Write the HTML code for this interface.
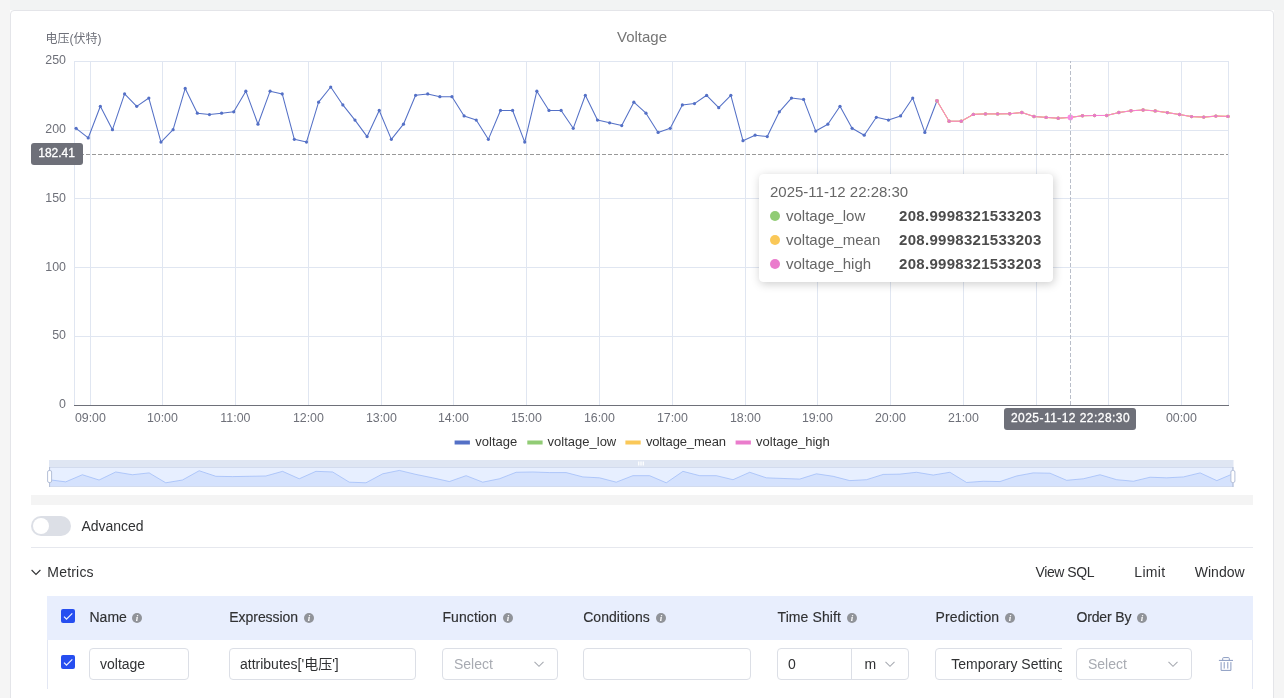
<!DOCTYPE html>
<html lang="en">
<head>
<meta charset="utf-8">
<title>Voltage</title>
<style>
html,body{margin:0;padding:0;}
body{width:1284px;height:698px;overflow:hidden;background:#f5f5f5;font-family:"Liberation Sans","Noto Sans CJK SC",sans-serif;font-size:14px;color:#303133;position:relative;}
.topbar{position:absolute;left:10px;top:0;width:1274px;height:10px;background:#f2f3f3;}
.card{position:absolute;left:10px;top:10px;width:1262px;height:720px;background:#fff;border:1px solid #e4e5e9;border-radius:4px;}
.chart{position:absolute;left:0;top:0;}
.abs{position:absolute;white-space:nowrap;}
.tooltip{position:absolute;left:759px;top:174px;width:272px;height:86px;padding:10px;border:1px solid #fff;border-radius:4px;background:#fff;box-shadow:rgba(0,0,0,0.2) 1px 2px 10px;color:#666;font-size:15px;line-height:14px;}
.tooltip .t{height:14px;position:relative;top:-0.5px;}
.tooltip .r{position:relative;height:14px;margin-top:10px;}
.tooltip .dot{position:absolute;left:0;top:2px;width:10px;height:10px;border-radius:50%;}
.tooltip .n{position:absolute;left:16px;top:-0.5px;}
.tooltip .v{position:absolute;top:-0.5px;font-weight:bold;color:#4c4c4c;letter-spacing:0.28px;right:0.5px;}
.scrollbar{position:absolute;left:31px;top:495px;width:1222px;height:10px;background:#f4f4f4;}
.switch{position:absolute;left:31px;top:516px;width:40px;height:20px;border-radius:10px;background:#dcdfe6;}
.switch i{position:absolute;left:2px;top:2px;width:16px;height:16px;border-radius:50%;background:#fff;}
.divider{position:absolute;left:31px;top:547px;width:1222px;height:1px;background:#e6e8ee;}
.table{position:absolute;left:47px;top:596px;width:1204px;height:93px;border-left:1px solid #e3e7f3;border-right:1px solid #e3e7f3;}
.thead{position:absolute;left:47px;top:596px;width:1206px;height:44px;background:#e8eefd;}
.lbl{position:absolute;top:596px;height:44px;line-height:43px;white-space:nowrap;-webkit-text-stroke:0.15px #303133;}
.info{display:block;}
.inp{position:absolute;top:648px;height:30px;border:1px solid #dcdfe6;border-radius:4px;background:#fff;line-height:30px;box-sizing:content-box;white-space:nowrap;overflow:hidden;}
.ph{color:#a8abb2;}
.chev{position:absolute;}
.cb{position:absolute;width:14px;height:14px;}
.btn{position:absolute;top:562px;height:20px;line-height:20px;}
</style>
</head>
<body>
<div class="topbar"></div>
<div class="abs" style="left:10px;top:10px;width:1264px;height:700px;background:#fff;"></div>
<div class="card"></div>
<svg class="chart" width="1284" height="500" viewBox="0 0 1284 500">
<g shape-rendering="crispEdges" stroke="#E0E6F1" stroke-width="1" fill="none"><line x1="74" y1="61.5" x2="1229" y2="61.5"/><line x1="74" y1="130.5" x2="1229" y2="130.5"/><line x1="74" y1="198.5" x2="1229" y2="198.5"/><line x1="74" y1="267.5" x2="1229" y2="267.5"/><line x1="74" y1="336.5" x2="1229" y2="336.5"/><line x1="74.5" y1="61" x2="74.5" y2="405"/><line x1="90.5" y1="61" x2="90.5" y2="405"/><line x1="162.5" y1="61" x2="162.5" y2="405"/><line x1="235.5" y1="61" x2="235.5" y2="405"/><line x1="308.5" y1="61" x2="308.5" y2="405"/><line x1="381.5" y1="61" x2="381.5" y2="405"/><line x1="453.5" y1="61" x2="453.5" y2="405"/><line x1="526.5" y1="61" x2="526.5" y2="405"/><line x1="599.5" y1="61" x2="599.5" y2="405"/><line x1="672.5" y1="61" x2="672.5" y2="405"/><line x1="745.5" y1="61" x2="745.5" y2="405"/><line x1="817.5" y1="61" x2="817.5" y2="405"/><line x1="890.5" y1="61" x2="890.5" y2="405"/><line x1="963.5" y1="61" x2="963.5" y2="405"/><line x1="1036.5" y1="61" x2="1036.5" y2="405"/><line x1="1108.5" y1="61" x2="1108.5" y2="405"/><line x1="1181.5" y1="61" x2="1181.5" y2="405"/><line x1="1228.5" y1="61" x2="1228.5" y2="405"/></g>
<line x1="74" y1="405.5" x2="1229" y2="405.5" stroke="#6E7079" stroke-width="1" shape-rendering="crispEdges"/>
<g fill="none" stroke-linejoin="bevel">
<polyline points="76.10,128.32 88.22,137.96 100.35,106.31 112.47,129.70 124.60,93.92 136.72,106.31 148.85,98.05 160.97,142.08 173.10,129.70 185.22,88.42 197.35,113.19 209.47,114.56 221.60,113.19 233.72,111.81 245.85,91.17 257.98,124.20 270.10,91.17 282.23,93.92 294.35,139.33 306.48,142.08 318.60,102.18 330.73,87.04 342.85,104.93 354.98,120.07 367.10,136.58 379.23,110.44 391.35,139.33 403.48,124.20 415.60,95.30 427.73,93.92 439.85,96.68 451.98,96.68 464.10,115.94 476.23,120.07 488.35,139.33 500.48,110.44 512.60,110.44 524.73,142.08 536.85,91.17 548.98,110.44 561.10,110.44 573.23,128.32 585.35,95.30 597.48,120.07 609.60,122.82 621.73,125.57 633.85,102.18 645.98,113.19 658.10,132.45 670.23,128.32 682.35,104.93 694.48,103.56 706.60,95.30 718.73,107.68 730.85,95.30 742.98,140.71 755.10,135.20 767.23,136.58 779.35,111.81 791.48,98.05 803.60,99.43 815.73,131.08 827.85,124.20 839.98,106.31 852.10,128.32 864.23,135.20 876.35,117.32 888.48,120.07 900.60,115.94 912.73,98.05 924.85,132.45 936.98,100.80" stroke="#5470c6" stroke-width="1.05"/>
</g>
<circle cx="76.10" cy="128.32" r="1.6" fill="#5470c6"/><circle cx="88.22" cy="137.96" r="1.6" fill="#5470c6"/><circle cx="100.35" cy="106.31" r="1.6" fill="#5470c6"/><circle cx="112.47" cy="129.70" r="1.6" fill="#5470c6"/><circle cx="124.60" cy="93.92" r="1.6" fill="#5470c6"/><circle cx="136.72" cy="106.31" r="1.6" fill="#5470c6"/><circle cx="148.85" cy="98.05" r="1.6" fill="#5470c6"/><circle cx="160.97" cy="142.08" r="1.6" fill="#5470c6"/><circle cx="173.10" cy="129.70" r="1.6" fill="#5470c6"/><circle cx="185.22" cy="88.42" r="1.6" fill="#5470c6"/><circle cx="197.35" cy="113.19" r="1.6" fill="#5470c6"/><circle cx="209.47" cy="114.56" r="1.6" fill="#5470c6"/><circle cx="221.60" cy="113.19" r="1.6" fill="#5470c6"/><circle cx="233.72" cy="111.81" r="1.6" fill="#5470c6"/><circle cx="245.85" cy="91.17" r="1.6" fill="#5470c6"/><circle cx="257.98" cy="124.20" r="1.6" fill="#5470c6"/><circle cx="270.10" cy="91.17" r="1.6" fill="#5470c6"/><circle cx="282.23" cy="93.92" r="1.6" fill="#5470c6"/><circle cx="294.35" cy="139.33" r="1.6" fill="#5470c6"/><circle cx="306.48" cy="142.08" r="1.6" fill="#5470c6"/><circle cx="318.60" cy="102.18" r="1.6" fill="#5470c6"/><circle cx="330.73" cy="87.04" r="1.6" fill="#5470c6"/><circle cx="342.85" cy="104.93" r="1.6" fill="#5470c6"/><circle cx="354.98" cy="120.07" r="1.6" fill="#5470c6"/><circle cx="367.10" cy="136.58" r="1.6" fill="#5470c6"/><circle cx="379.23" cy="110.44" r="1.6" fill="#5470c6"/><circle cx="391.35" cy="139.33" r="1.6" fill="#5470c6"/><circle cx="403.48" cy="124.20" r="1.6" fill="#5470c6"/><circle cx="415.60" cy="95.30" r="1.6" fill="#5470c6"/><circle cx="427.73" cy="93.92" r="1.6" fill="#5470c6"/><circle cx="439.85" cy="96.68" r="1.6" fill="#5470c6"/><circle cx="451.98" cy="96.68" r="1.6" fill="#5470c6"/><circle cx="464.10" cy="115.94" r="1.6" fill="#5470c6"/><circle cx="476.23" cy="120.07" r="1.6" fill="#5470c6"/><circle cx="488.35" cy="139.33" r="1.6" fill="#5470c6"/><circle cx="500.48" cy="110.44" r="1.6" fill="#5470c6"/><circle cx="512.60" cy="110.44" r="1.6" fill="#5470c6"/><circle cx="524.73" cy="142.08" r="1.6" fill="#5470c6"/><circle cx="536.85" cy="91.17" r="1.6" fill="#5470c6"/><circle cx="548.98" cy="110.44" r="1.6" fill="#5470c6"/><circle cx="561.10" cy="110.44" r="1.6" fill="#5470c6"/><circle cx="573.23" cy="128.32" r="1.6" fill="#5470c6"/><circle cx="585.35" cy="95.30" r="1.6" fill="#5470c6"/><circle cx="597.48" cy="120.07" r="1.6" fill="#5470c6"/><circle cx="609.60" cy="122.82" r="1.6" fill="#5470c6"/><circle cx="621.73" cy="125.57" r="1.6" fill="#5470c6"/><circle cx="633.85" cy="102.18" r="1.6" fill="#5470c6"/><circle cx="645.98" cy="113.19" r="1.6" fill="#5470c6"/><circle cx="658.10" cy="132.45" r="1.6" fill="#5470c6"/><circle cx="670.23" cy="128.32" r="1.6" fill="#5470c6"/><circle cx="682.35" cy="104.93" r="1.6" fill="#5470c6"/><circle cx="694.48" cy="103.56" r="1.6" fill="#5470c6"/><circle cx="706.60" cy="95.30" r="1.6" fill="#5470c6"/><circle cx="718.73" cy="107.68" r="1.6" fill="#5470c6"/><circle cx="730.85" cy="95.30" r="1.6" fill="#5470c6"/><circle cx="742.98" cy="140.71" r="1.6" fill="#5470c6"/><circle cx="755.10" cy="135.20" r="1.6" fill="#5470c6"/><circle cx="767.23" cy="136.58" r="1.6" fill="#5470c6"/><circle cx="779.35" cy="111.81" r="1.6" fill="#5470c6"/><circle cx="791.48" cy="98.05" r="1.6" fill="#5470c6"/><circle cx="803.60" cy="99.43" r="1.6" fill="#5470c6"/><circle cx="815.73" cy="131.08" r="1.6" fill="#5470c6"/><circle cx="827.85" cy="124.20" r="1.6" fill="#5470c6"/><circle cx="839.98" cy="106.31" r="1.6" fill="#5470c6"/><circle cx="852.10" cy="128.32" r="1.6" fill="#5470c6"/><circle cx="864.23" cy="135.20" r="1.6" fill="#5470c6"/><circle cx="876.35" cy="117.32" r="1.6" fill="#5470c6"/><circle cx="888.48" cy="120.07" r="1.6" fill="#5470c6"/><circle cx="900.60" cy="115.94" r="1.6" fill="#5470c6"/><circle cx="912.73" cy="98.05" r="1.6" fill="#5470c6"/><circle cx="924.85" cy="132.45" r="1.6" fill="#5470c6"/><circle cx="936.98" cy="100.80" r="1.6" fill="#5470c6"/>
<polyline points="936.98,100.80 949.10,121.20 961.23,121.20 973.35,114.40 985.48,113.90 997.60,113.90 1009.73,113.75 1021.85,112.50 1033.97,116.50 1046.10,117.40 1058.22,118.20 1070.35,117.40 1082.47,115.75 1094.60,115.50 1106.72,115.45 1118.85,112.55 1130.97,110.80 1143.10,110.00 1155.22,110.90 1167.35,112.60 1179.47,114.50 1191.60,116.60 1203.72,117.10 1215.85,116.10 1227.97,116.40" fill="none" stroke="#91cc75" stroke-width="1.0" stroke-linejoin="bevel"/>
<circle cx="936.98" cy="100.80" r="1.7" fill="#91cc75"/><circle cx="949.10" cy="121.20" r="1.7" fill="#91cc75"/><circle cx="961.23" cy="121.20" r="1.7" fill="#91cc75"/><circle cx="973.35" cy="114.40" r="1.7" fill="#91cc75"/><circle cx="985.48" cy="113.90" r="1.7" fill="#91cc75"/><circle cx="997.60" cy="113.90" r="1.7" fill="#91cc75"/><circle cx="1009.73" cy="113.75" r="1.7" fill="#91cc75"/><circle cx="1021.85" cy="112.50" r="1.7" fill="#91cc75"/><circle cx="1033.97" cy="116.50" r="1.7" fill="#91cc75"/><circle cx="1046.10" cy="117.40" r="1.7" fill="#91cc75"/><circle cx="1058.22" cy="118.20" r="1.7" fill="#91cc75"/><circle cx="1070.35" cy="117.40" r="1.7" fill="#91cc75"/><circle cx="1082.47" cy="115.75" r="1.7" fill="#91cc75"/><circle cx="1094.60" cy="115.50" r="1.7" fill="#91cc75"/><circle cx="1106.72" cy="115.45" r="1.7" fill="#91cc75"/><circle cx="1118.85" cy="112.55" r="1.7" fill="#91cc75"/><circle cx="1130.97" cy="110.80" r="1.7" fill="#91cc75"/><circle cx="1143.10" cy="110.00" r="1.7" fill="#91cc75"/><circle cx="1155.22" cy="110.90" r="1.7" fill="#91cc75"/><circle cx="1167.35" cy="112.60" r="1.7" fill="#91cc75"/><circle cx="1179.47" cy="114.50" r="1.7" fill="#91cc75"/><circle cx="1191.60" cy="116.60" r="1.7" fill="#91cc75"/><circle cx="1203.72" cy="117.10" r="1.7" fill="#91cc75"/><circle cx="1215.85" cy="116.10" r="1.7" fill="#91cc75"/><circle cx="1227.97" cy="116.40" r="1.7" fill="#91cc75"/>
<polyline points="936.98,100.80 949.10,121.20 961.23,121.20 973.35,114.40 985.48,113.90 997.60,113.90 1009.73,113.75 1021.85,112.50 1033.97,116.50 1046.10,117.40 1058.22,118.20 1070.35,117.40 1082.47,115.75 1094.60,115.50 1106.72,115.45 1118.85,112.55 1130.97,110.80 1143.10,110.00 1155.22,110.90 1167.35,112.60 1179.47,114.50 1191.60,116.60 1203.72,117.10 1215.85,116.10 1227.97,116.40" fill="none" stroke="#fac858" stroke-width="1.1" stroke-linejoin="bevel"/>
<circle cx="936.98" cy="100.80" r="1.7" fill="#fac858"/><circle cx="949.10" cy="121.20" r="1.7" fill="#fac858"/><circle cx="961.23" cy="121.20" r="1.7" fill="#fac858"/><circle cx="973.35" cy="114.40" r="1.7" fill="#fac858"/><circle cx="985.48" cy="113.90" r="1.7" fill="#fac858"/><circle cx="997.60" cy="113.90" r="1.7" fill="#fac858"/><circle cx="1009.73" cy="113.75" r="1.7" fill="#fac858"/><circle cx="1021.85" cy="112.50" r="1.7" fill="#fac858"/><circle cx="1033.97" cy="116.50" r="1.7" fill="#fac858"/><circle cx="1046.10" cy="117.40" r="1.7" fill="#fac858"/><circle cx="1058.22" cy="118.20" r="1.7" fill="#fac858"/><circle cx="1070.35" cy="117.40" r="1.7" fill="#fac858"/><circle cx="1082.47" cy="115.75" r="1.7" fill="#fac858"/><circle cx="1094.60" cy="115.50" r="1.7" fill="#fac858"/><circle cx="1106.72" cy="115.45" r="1.7" fill="#fac858"/><circle cx="1118.85" cy="112.55" r="1.7" fill="#fac858"/><circle cx="1130.97" cy="110.80" r="1.7" fill="#fac858"/><circle cx="1143.10" cy="110.00" r="1.7" fill="#fac858"/><circle cx="1155.22" cy="110.90" r="1.7" fill="#fac858"/><circle cx="1167.35" cy="112.60" r="1.7" fill="#fac858"/><circle cx="1179.47" cy="114.50" r="1.7" fill="#fac858"/><circle cx="1191.60" cy="116.60" r="1.7" fill="#fac858"/><circle cx="1203.72" cy="117.10" r="1.7" fill="#fac858"/><circle cx="1215.85" cy="116.10" r="1.7" fill="#fac858"/><circle cx="1227.97" cy="116.40" r="1.7" fill="#fac858"/>
<polyline points="936.98,100.80 949.10,121.20 961.23,121.20 973.35,114.40 985.48,113.90 997.60,113.90 1009.73,113.75 1021.85,112.50 1033.97,116.50 1046.10,117.40 1058.22,118.20 1070.35,117.40 1082.47,115.75 1094.60,115.50 1106.72,115.45 1118.85,112.55 1130.97,110.80 1143.10,110.00 1155.22,110.90 1167.35,112.60 1179.47,114.50 1191.60,116.60 1203.72,117.10 1215.85,116.10 1227.97,116.40" fill="none" stroke="#fb7dd6" stroke-width="1.0" stroke-linejoin="bevel"/>
<circle cx="936.98" cy="100.80" r="1.7" fill="#e47cc9"/><circle cx="949.10" cy="121.20" r="1.7" fill="#e47cc9"/><circle cx="961.23" cy="121.20" r="1.7" fill="#e47cc9"/><circle cx="973.35" cy="114.40" r="1.7" fill="#e47cc9"/><circle cx="985.48" cy="113.90" r="1.7" fill="#e47cc9"/><circle cx="997.60" cy="113.90" r="1.7" fill="#e47cc9"/><circle cx="1009.73" cy="113.75" r="1.7" fill="#e47cc9"/><circle cx="1021.85" cy="112.50" r="1.7" fill="#e47cc9"/><circle cx="1033.97" cy="116.50" r="1.7" fill="#e47cc9"/><circle cx="1046.10" cy="117.40" r="1.7" fill="#e47cc9"/><circle cx="1058.22" cy="118.20" r="1.7" fill="#e47cc9"/><circle cx="1070.35" cy="117.40" r="1.7" fill="#e47cc9"/><circle cx="1082.47" cy="115.75" r="1.7" fill="#e47cc9"/><circle cx="1094.60" cy="115.50" r="1.7" fill="#e47cc9"/><circle cx="1106.72" cy="115.45" r="1.7" fill="#e47cc9"/><circle cx="1118.85" cy="112.55" r="1.7" fill="#e47cc9"/><circle cx="1130.97" cy="110.80" r="1.7" fill="#e47cc9"/><circle cx="1143.10" cy="110.00" r="1.7" fill="#e47cc9"/><circle cx="1155.22" cy="110.90" r="1.7" fill="#e47cc9"/><circle cx="1167.35" cy="112.60" r="1.7" fill="#e47cc9"/><circle cx="1179.47" cy="114.50" r="1.7" fill="#e47cc9"/><circle cx="1191.60" cy="116.60" r="1.7" fill="#e47cc9"/><circle cx="1203.72" cy="117.10" r="1.7" fill="#e47cc9"/><circle cx="1215.85" cy="116.10" r="1.7" fill="#e47cc9"/><circle cx="1227.97" cy="116.40" r="1.7" fill="#e47cc9"/>
<line x1="83" y1="154.5" x2="1228" y2="154.5" stroke="#999" stroke-width="1" stroke-dasharray="4 2" stroke-dashoffset="3" shape-rendering="crispEdges"/>
<circle cx="1070.35" cy="117.40" r="2.8" fill="#f78ce2"/>
<line x1="1070.5" y1="405" x2="1070.5" y2="61" stroke="#B9BEC9" stroke-width="1" stroke-dasharray="4 2" shape-rendering="crispEdges"/>
<g font-family="'Liberation Sans', 'Noto Sans CJK SC', sans-serif" font-size="12.4" fill="#6E7079">
<text x="45.5" y="43" font-size="12">电压(伏特)</text>
<text x="66" y="63.9" text-anchor="end">250</text>
<text x="66" y="132.9" text-anchor="end">200</text>
<text x="66" y="201.9" text-anchor="end">150</text>
<text x="66" y="270.9" text-anchor="end">100</text>
<text x="66" y="338.9" text-anchor="end">50</text>
<text x="66" y="407.9" text-anchor="end">0</text>
<text x="90.4" y="422" text-anchor="middle">09:00</text>
<text x="162.4" y="422" text-anchor="middle">10:00</text>
<text x="235.4" y="422" text-anchor="middle">11:00</text>
<text x="308.4" y="422" text-anchor="middle">12:00</text>
<text x="381.4" y="422" text-anchor="middle">13:00</text>
<text x="453.4" y="422" text-anchor="middle">14:00</text>
<text x="526.4" y="422" text-anchor="middle">15:00</text>
<text x="599.4" y="422" text-anchor="middle">16:00</text>
<text x="672.4" y="422" text-anchor="middle">17:00</text>
<text x="745.4" y="422" text-anchor="middle">18:00</text>
<text x="817.4" y="422" text-anchor="middle">19:00</text>
<text x="890.4" y="422" text-anchor="middle">20:00</text>
<text x="963.4" y="422" text-anchor="middle">21:00</text>
<text x="1181.4" y="422" text-anchor="middle">00:00</text>
</g>
<text x="642" y="42" text-anchor="middle" font-family="'Liberation Sans', sans-serif" font-size="15" fill="#757575">Voltage</text>
<rect x="31" y="143" width="52" height="22" rx="3" fill="#6E7079"/>
<text x="56.6" y="157.4" text-anchor="middle" font-family="'Liberation Sans', sans-serif" font-size="12" fill="#fff" stroke="#fff" stroke-width="0.3">182.41</text>
<rect x="1004" y="408" width="132" height="22" rx="3" fill="#6E7079"/>
<text x="1070.5" y="421.8" text-anchor="middle" font-family="'Liberation Sans', sans-serif" font-size="12" letter-spacing="0.45" fill="#fff" stroke="#fff" stroke-width="0.3">2025-11-12 22:28:30</text>
<g font-family="'Liberation Sans', sans-serif" font-size="13" fill="#333">
<rect x="454.6" y="440.5" width="15.3" height="4" fill="#5470c6"/>
<text x="475.3" y="445.9">voltage</text>
<rect x="527.3" y="440.5" width="15.3" height="4" fill="#91cc75"/>
<text x="547.6" y="445.9">voltage_low</text>
<rect x="625.4" y="440.5" width="15.3" height="4" fill="#fac858"/>
<text x="645.9" y="445.9" letter-spacing="-0.14">voltage_mean</text>
<rect x="735.6" y="440.5" width="15.3" height="4" fill="#ea7ccc"/>
<text x="756.1" y="445.9">voltage_high</text>
</g>
<rect x="49" y="460" width="1184.5" height="7" fill="#D2DBEE" fill-opacity="0.7"/>
<rect x="49" y="467" width="1184.5" height="20" fill="rgb(135,175,255)" fill-opacity="0.2"/>
<polygon points="49,487 49.00,479.70 65.68,481.86 82.37,474.74 99.05,480.01 115.73,471.96 132.42,474.74 149.10,472.88 165.78,482.79 182.46,480.01 199.15,470.72 215.83,476.29 232.51,476.60 249.20,476.29 265.88,475.98 282.56,471.34 299.25,478.77 315.93,471.34 332.61,471.96 349.30,482.17 365.98,482.79 382.66,473.81 399.35,470.41 416.03,474.43 432.71,477.84 449.39,481.55 466.08,475.67 482.76,482.17 499.44,478.77 516.13,472.27 532.81,471.96 549.49,472.58 566.18,472.58 582.86,476.91 599.54,477.84 616.23,482.17 632.91,475.67 649.59,475.67 666.27,482.79 682.96,471.34 699.64,475.67 716.32,475.67 733.01,479.70 749.69,472.27 766.37,477.84 783.06,478.46 799.74,479.08 816.42,473.81 833.11,476.29 849.79,480.62 866.47,479.70 883.15,474.43 899.84,474.12 916.52,472.27 933.20,475.05 949.89,472.27 966.57,482.48 983.25,481.24 999.94,481.55 1016.62,475.98 1033.30,472.88 1049.99,473.19 1066.67,480.32 1083.35,478.77 1100.04,474.74 1116.72,479.70 1133.40,481.24 1150.08,477.22 1166.77,477.84 1183.45,476.91 1200.13,472.88 1216.82,480.62 1233.50,473.50 1233.5,487" fill="#8fb0f7" fill-opacity="0.2"/>
<polyline points="49.00,479.70 65.68,481.86 82.37,474.74 99.05,480.01 115.73,471.96 132.42,474.74 149.10,472.88 165.78,482.79 182.46,480.01 199.15,470.72 215.83,476.29 232.51,476.60 249.20,476.29 265.88,475.98 282.56,471.34 299.25,478.77 315.93,471.34 332.61,471.96 349.30,482.17 365.98,482.79 382.66,473.81 399.35,470.41 416.03,474.43 432.71,477.84 449.39,481.55 466.08,475.67 482.76,482.17 499.44,478.77 516.13,472.27 532.81,471.96 549.49,472.58 566.18,472.58 582.86,476.91 599.54,477.84 616.23,482.17 632.91,475.67 649.59,475.67 666.27,482.79 682.96,471.34 699.64,475.67 716.32,475.67 733.01,479.70 749.69,472.27 766.37,477.84 783.06,478.46 799.74,479.08 816.42,473.81 833.11,476.29 849.79,480.62 866.47,479.70 883.15,474.43 899.84,474.12 916.52,472.27 933.20,475.05 949.89,472.27 966.57,482.48 983.25,481.24 999.94,481.55 1016.62,475.98 1033.30,472.88 1049.99,473.19 1066.67,480.32 1083.35,478.77 1100.04,474.74 1116.72,479.70 1133.40,481.24 1150.08,477.22 1166.77,477.84 1183.45,476.91 1200.13,472.88 1216.82,480.62 1233.50,473.50" fill="none" stroke="#8fb0f7" stroke-width="0.6"/>
<rect x="49.5" y="467.5" width="1183.5" height="19" fill="none" stroke="#d2dbee" stroke-width="1"/>
<line x1="49.6" y1="467" x2="49.6" y2="487" stroke="#B4BFD8" stroke-width="1"/>
<rect x="47.6" y="470.5" width="4" height="12" rx="1.5" fill="#fff" stroke="#B4BFD8" stroke-width="1"/>
<line x1="1232.9" y1="467" x2="1232.9" y2="487" stroke="#B4BFD8" stroke-width="1"/>
<rect x="1230.9" y="470.5" width="4" height="12" rx="1.5" fill="#fff" stroke="#B4BFD8" stroke-width="1"/>
<g fill="#fff" fill-opacity="0.9"><rect x="638" y="461.5" width="1.4" height="4"/><rect x="640.3" y="461.5" width="1.4" height="4"/><rect x="642.6" y="461.5" width="1.4" height="4"/></g>
</svg>
<div class="tooltip">
  <div class="t">2025-11-12 22:28:30</div>
  <div class="r"><span class="dot" style="background:#91cc75"></span><span class="n">voltage_low</span><span class="v">208.9998321533203</span></div>
  <div class="r"><span class="dot" style="background:#fac858"></span><span class="n">voltage_mean</span><span class="v">208.9998321533203</span></div>
  <div class="r"><span class="dot" style="background:#ea7ccc"></span><span class="n">voltage_high</span><span class="v">208.9998321533203</span></div>
</div>
<div class="scrollbar"></div>
<div class="switch"><i></i></div>
<div class="abs" style="left:81.5px;top:516px;line-height:20px;letter-spacing:-0.03px;">Advanced</div>
<div class="divider"></div>
<svg class="abs" style="left:30px;top:566px" width="12" height="12" viewBox="0 0 12 12"><path d="M1.6 4L6 8.4 10.4 4" fill="none" stroke="#303133" stroke-width="1.1"/></svg>
<div class="abs" style="left:47.3px;top:562px;line-height:20px;letter-spacing:0.2px;">Metrics</div>
<div class="btn" style="left:1035.6px;letter-spacing:-0.45px;">View SQL</div>
<div class="btn" style="left:1134.3px;letter-spacing:0.3px;">Limit</div>
<div class="btn" style="left:1194.8px;">Window</div>
<div class="table"></div>
<div class="thead"></div>
<div class="cb" style="left:61px;top:609px;"><svg width="14" height="14" viewBox="0 0 14 14"><rect width="14" height="14" rx="2" fill="#264ef0"/><path d="M3 7.6L5.5 10.2 11.3 4.4" fill="none" stroke="#fff" stroke-opacity="0.92" stroke-width="1.25"/></svg></div>
<div class="lbl" style="left:89.5px;letter-spacing:0px;">Name</div>
<div class="abs" style="left:132.0px;top:612.9px;width:10px;height:10px;"><svg class="info" width="10" height="10" viewBox="0 0 10 10"><circle cx="5" cy="5" r="5" fill="#909399"/><text x="5.1" y="8.1" text-anchor="middle" font-family="'Liberation Serif', serif" font-style="italic" font-weight="bold" font-size="9" fill="#fff">i</text></svg></div>
<div class="lbl" style="left:229.3px;letter-spacing:-0.05px;">Expression</div>
<div class="abs" style="left:304.1px;top:612.9px;width:10px;height:10px;"><svg class="info" width="10" height="10" viewBox="0 0 10 10"><circle cx="5" cy="5" r="5" fill="#909399"/><text x="5.1" y="8.1" text-anchor="middle" font-family="'Liberation Serif', serif" font-style="italic" font-weight="bold" font-size="9" fill="#fff">i</text></svg></div>
<div class="lbl" style="left:442.4px;letter-spacing:0.1px;">Function</div>
<div class="abs" style="left:503.0px;top:612.9px;width:10px;height:10px;"><svg class="info" width="10" height="10" viewBox="0 0 10 10"><circle cx="5" cy="5" r="5" fill="#909399"/><text x="5.1" y="8.1" text-anchor="middle" font-family="'Liberation Serif', serif" font-style="italic" font-weight="bold" font-size="9" fill="#fff">i</text></svg></div>
<div class="lbl" style="left:583.2px;letter-spacing:0.05px;">Conditions</div>
<div class="abs" style="left:656.0px;top:612.9px;width:10px;height:10px;"><svg class="info" width="10" height="10" viewBox="0 0 10 10"><circle cx="5" cy="5" r="5" fill="#909399"/><text x="5.1" y="8.1" text-anchor="middle" font-family="'Liberation Serif', serif" font-style="italic" font-weight="bold" font-size="9" fill="#fff">i</text></svg></div>
<div class="lbl" style="left:777.5px;letter-spacing:0.1px;">Time Shift</div>
<div class="abs" style="left:847.0px;top:612.9px;width:10px;height:10px;"><svg class="info" width="10" height="10" viewBox="0 0 10 10"><circle cx="5" cy="5" r="5" fill="#909399"/><text x="5.1" y="8.1" text-anchor="middle" font-family="'Liberation Serif', serif" font-style="italic" font-weight="bold" font-size="9" fill="#fff">i</text></svg></div>
<div class="lbl" style="left:935.5px;letter-spacing:0.15px;">Prediction</div>
<div class="abs" style="left:1004.8px;top:612.9px;width:10px;height:10px;"><svg class="info" width="10" height="10" viewBox="0 0 10 10"><circle cx="5" cy="5" r="5" fill="#909399"/><text x="5.1" y="8.1" text-anchor="middle" font-family="'Liberation Serif', serif" font-style="italic" font-weight="bold" font-size="9" fill="#fff">i</text></svg></div>
<div class="lbl" style="left:1076.4px;letter-spacing:-0.12px;">Order By</div>
<div class="abs" style="left:1137.0px;top:612.9px;width:10px;height:10px;"><svg class="info" width="10" height="10" viewBox="0 0 10 10"><circle cx="5" cy="5" r="5" fill="#909399"/><text x="5.1" y="8.1" text-anchor="middle" font-family="'Liberation Serif', serif" font-style="italic" font-weight="bold" font-size="9" fill="#fff">i</text></svg></div>
<div class="cb" style="left:61px;top:655px;"><svg width="14" height="14" viewBox="0 0 14 14"><rect width="14" height="14" rx="2" fill="#264ef0"/><path d="M3 7.6L5.5 10.2 11.3 4.4" fill="none" stroke="#fff" stroke-opacity="0.92" stroke-width="1.25"/></svg></div>
<div class="inp" style="left:89px;width:98px;"><span style="margin-left:10px">voltage</span></div>
<div class="inp" style="left:229px;width:185px;"><span style="margin-left:10px">attributes['电压']</span></div>
<div class="inp" style="left:442px;width:114px;"><span class="ph" style="margin-left:11px">Select</span></div>
<div class="chev" style="left:533px;top:658px;"><svg class="chev" width="12" height="12" viewBox="0 0 12 12"><path d="M1.5 3.8L6 8.3l4.5-4.5" fill="none" stroke="#a8abb2" stroke-width="1.1"/></svg></div>
<div class="inp" style="left:583px;width:166px;"></div>
<div class="inp" style="left:777px;width:130px;"><span style="margin-left:10px">0</span></div>
<div class="abs" style="left:851px;top:649px;width:1px;height:30px;background:#dcdfe6;"></div>
<div class="abs" style="left:864.5px;top:649px;line-height:30px;">m</div>
<div class="chev" style="left:884px;top:658px;"><svg class="chev" width="12" height="12" viewBox="0 0 12 12"><path d="M1.5 3.8L6 8.3l4.5-4.5" fill="none" stroke="#a8abb2" stroke-width="1.1"/></svg></div>
<div class="abs" style="left:935px;top:648px;width:127px;height:32px;overflow:hidden;"><div class="inp" style="left:0;top:0;width:160px;"><span style="margin-left:15.3px">Temporary Setting</span></div></div>
<div class="inp" style="left:1076px;width:114px;"><span class="ph" style="margin-left:11px">Select</span></div>
<div class="chev" style="left:1167px;top:658px;"><svg class="chev" width="12" height="12" viewBox="0 0 12 12"><path d="M1.5 3.8L6 8.3l4.5-4.5" fill="none" stroke="#a8abb2" stroke-width="1.1"/></svg></div>
<div class="abs" style="left:1218px;top:656px;"><svg width="16" height="16" viewBox="0 0 16 16" fill="none" stroke="#8a9bc1" stroke-width="1"><path d="M0.9 4.4h14.1"/><path d="M4.7 4.4V2.5a.9.9 0 0 1 .9-.9h4.8a.9.9 0 0 1 .9.9v1.9"/><path d="M3.1 6.1v8.3h9.8V6.1"/><path d="M6.2 6.1v6.5M9.8 6.1v6.5"/></svg></div>
</body>
</html>
